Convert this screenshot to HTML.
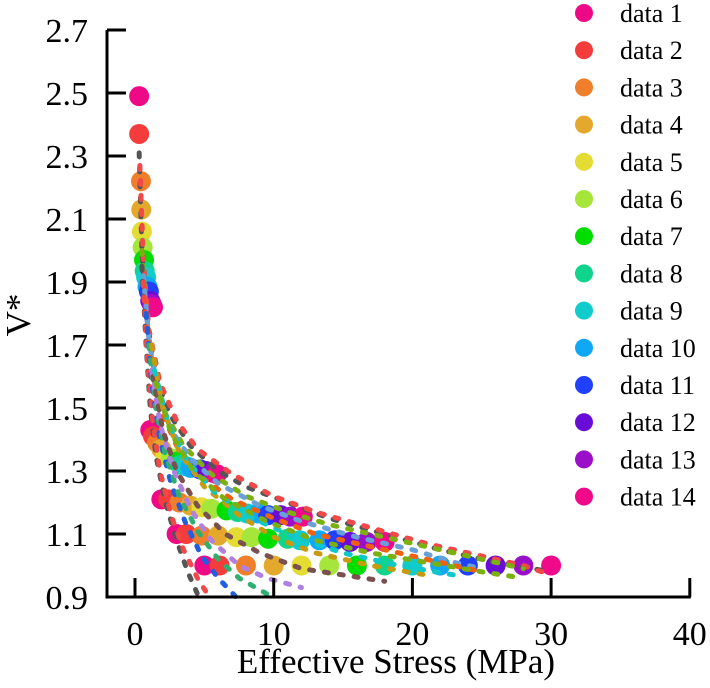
<!DOCTYPE html>
<html><head><meta charset="utf-8"><style>
html,body{margin:0;padding:0;background:#fff;}
svg{display:block;font-family:"Liberation Serif","Times New Roman",serif;}
</style></head><body>
<svg id="chart" width="710" height="688" viewBox="0 0 710 688">
<g id="marks"></g>
<g id="curves"></g>
<g id="axes"></g>
<g id="legend"></g>
<text x="30" y="315" font-size="35" text-anchor="middle" transform="rotate(-90 30 315)">V*</text>
<text x="396" y="673" font-size="35" text-anchor="middle">Effective Stress (MPa)</text>
</svg>
<script>
const seriesNames = ["data 1","data 2","data 3","data 4","data 5","data 6","data 7","data 8","data 9","data 10","data 11","data 12","data 13","data 14"];
const seriesColors = ["#ee0a87","#f53c3c","#ef7f2a","#e4a92c","#e4db33","#a6e53a","#00dd00","#10d48b","#10cccc","#10a8f5","#2040ff","#6a0cd8","#9a10c8","#f00a8a"];
const seriesX = [
 [0.3,1.1,1.9,3.0,5.0],[0.3,1.3,2.4,3.7,6.1],[0.43,1.6,3.2,4.8,8],[0.45,1.9,4.0,6.0,10],
 [0.5,2.2,4.8,7.3,12],[0.55,2.6,5.5,8.4,14],[0.65,3.0,6.6,9.6,16],[0.7,3.3,7.4,11,18],
 [0.8,3.7,8.1,11.9,20],[0.9,4.0,8.9,13.3,22],[1.0,4.7,9.6,14.4,24],[1.1,5.1,10.5,15.5,26],
 [1.2,5.6,11.2,16.7,28],[1.3,5.9,12.1,18,30]];
const seriesY = [
 [2.49,1.43,1.21,1.10,1.0],[2.37,1.41,1.21,1.10,1.0],[2.22,1.39,1.20,1.095,1.0],[2.13,1.37,1.19,1.095,1.0],
 [2.06,1.35,1.185,1.09,1.0],[2.01,1.34,1.18,1.09,1.0],[1.97,1.33,1.175,1.085,1.0],[1.935,1.32,1.17,1.085,1.0],
 [1.915,1.315,1.165,1.08,1.0],[1.885,1.31,1.165,1.08,1.0],[1.87,1.305,1.16,1.08,1.0],[1.84,1.30,1.16,1.075,1.0],
 [1.83,1.295,1.155,1.075,1.0],[1.82,1.29,1.155,1.075,1.0]];
const curveColors = ["#555555","#f24848","#7ab010","#6aa0d8","#f06010","#555555","#f24848","#2060e0","#30b070","#b080e0","#7a5050","#c89a10","#10c8c8","#7ab010"];
const curveX = [
 [0.3,0.5,0.8,1.5,2.5,4,6,8,11,14,18,22,26,30],
 [0.35,0.6,1.0,1.8,3,4.5,7,10,13,17,21,25,28,30],
 [0.5,0.8,1.3,2.2,3.5,5.5,8,11,14,18,22,26,28],
 [0.6,1.0,1.6,2.6,4,6,9,12,16,20,23,25],
 [0.7,1.1,1.8,3,4.5,7,10,13,17,21,25],
 [0.5,0.8,1.1,1.5,2.2,3,3.8,4.6],
 [0.6,0.9,1.3,1.8,2.6,3.5,4.5,5.5],
 [0.8,1.2,1.8,2.6,3.6,4.8,6,7.5],
 [1.0,1.5,2.2,3.2,4.5,6,7.5,9.5],
 [1.2,1.8,2.8,4,5.5,7.5,9.5,12],
 [1.3,2.0,3.0,4.5,6.5,9,12,15,18],
 [1.2,2.0,3.2,5,7.5,10,13,17,21],
 [1.4,2.4,3.8,5.8,8.5,11.5,15,19,23],
 [1.5,2.6,4.2,6.5,9.5,13,17,21,25,28]];
const curveY = [
 [2.31,2.0,1.8,1.6,1.48,1.38,1.30,1.25,1.20,1.15,1.10,1.05,1.01,0.98],
 [2.27,1.97,1.75,1.58,1.46,1.37,1.29,1.22,1.17,1.12,1.07,1.03,1.0,0.97],
 [2.0,1.8,1.62,1.48,1.38,1.29,1.22,1.17,1.13,1.09,1.05,1.01,0.99],
 [1.92,1.72,1.56,1.43,1.34,1.26,1.19,1.14,1.09,1.05,1.01,0.99],
 [1.85,1.66,1.5,1.38,1.29,1.21,1.15,1.10,1.06,1.02,0.98],
 [1.95,1.7,1.5,1.35,1.2,1.08,0.98,0.90],
 [1.9,1.65,1.45,1.3,1.16,1.05,0.96,0.89],
 [1.8,1.58,1.4,1.26,1.14,1.03,0.96,0.89],
 [1.7,1.5,1.35,1.22,1.11,1.02,0.96,0.91],
 [1.62,1.45,1.3,1.18,1.08,1.0,0.96,0.93],
 [1.6,1.43,1.3,1.19,1.1,1.04,0.99,0.97,0.95],
 [1.7,1.5,1.36,1.25,1.16,1.09,1.04,1.0,0.97],
 [1.62,1.45,1.33,1.23,1.15,1.09,1.04,1.0,0.97],
 [1.58,1.42,1.3,1.21,1.14,1.08,1.04,1.01,0.98,0.96]];
const xTicks = [0,10,20,30,40];
const yTicks = [0.9,1.1,1.3,1.5,1.7,1.9,2.1,2.3,2.5,2.7];

const NS = "http://www.w3.org/2000/svg";
const X0 = 135, XS = 13.87, Y0 = 597, YS = 315;
function sx(v){ return X0 + v*XS; }
function sy(v){ return Y0 - (v-0.9)*YS; }
function mk(tag, attrs, parent){ const e=document.createElementNS(NS,tag); for(const k in attrs) e.setAttribute(k,attrs[k]); parent.appendChild(e); return e; }

const marks = document.getElementById('marks');
for (let p=0;p<5;p++){
  for (let s=0;s<seriesNames.length;s++){
    const c = mk('circle',{cx:sx(seriesX[s][p]),cy:sy(seriesY[s][p]),r:10,fill:seriesColors[s]},marks);
    
    
  }
}
const curves = document.getElementById('curves');
for (let i=0;i<curveX.length;i++){
  const pts = curveX[i].map((x,j)=>sx(x)+','+sy(curveY[i][j])).join(' ');
  const pl = mk('polyline',{points:pts,fill:'none',stroke:curveColors[i],'stroke-width':5,'stroke-linecap':'round','stroke-dasharray':'4 11','stroke-linejoin':'round'},curves);
  
  
}
const axes = document.getElementById('axes');
const yl = mk('line',{x1:107,y1:sy(2.7),x2:107,y2:598.5,stroke:'#000','stroke-width':3},axes);


const xl = mk('line',{x1:105.5,y1:597,x2:sx(40)+1,y2:597,stroke:'#000','stroke-width':3},axes);


xTicks.forEach(t=>{
  const tk = mk('line',{x1:sx(t),y1:597,x2:sx(t),y2:578,stroke:'#000','stroke-width':3},axes);
  
  
  const tx = mk('text',{x:sx(t),y:645,'font-size':34,'text-anchor':'middle'},axes);
  tx.textContent = String(t);
  
  
});
yTicks.forEach(t=>{
  const tk = mk('line',{x1:107,y1:sy(t),x2:126,y2:sy(t),stroke:'#000','stroke-width':3},axes);
  
  
  const tx = mk('text',{x:88,y:sy(t)+12,'font-size':34,'text-anchor':'end'},axes);
  tx.textContent = t.toFixed(1);
  
  
});
const legend = document.getElementById('legend');
seriesNames.forEach((n,i)=>{
  const y = 13 + i*37.2;
  const g = mk('g',{},legend);
  
  
  mk('circle',{cx:584,cy:y,r:9,fill:seriesColors[i]},g);
  const t = mk('text',{x:620,y:y+9,'font-size':26},g);
  t.textContent = n;
});
</script>
</body></html>
